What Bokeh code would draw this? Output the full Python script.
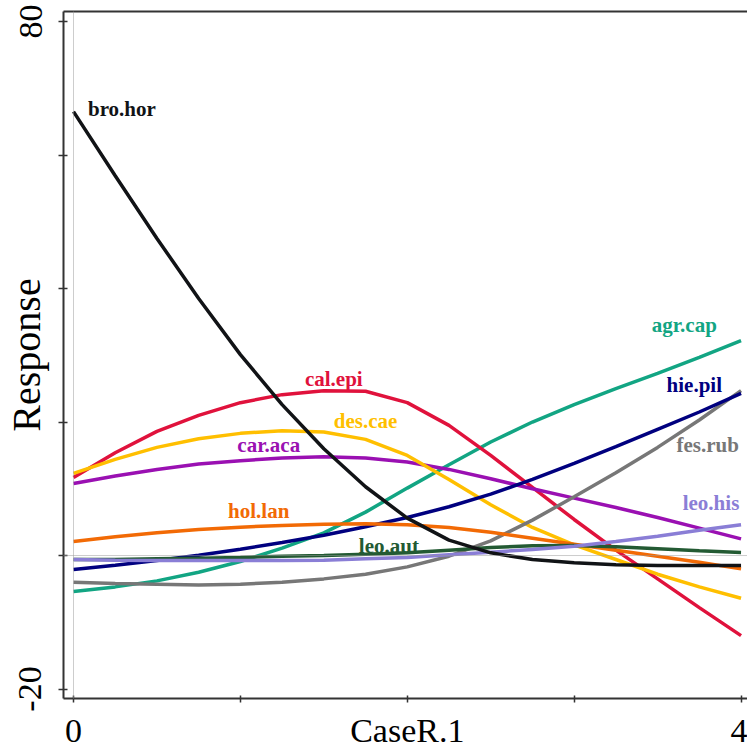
from bokeh.plotting import figure
from bokeh.models import FixedTicker, Span, ColumnDataSource, Range1d, LinearAxis
from bokeh.core.properties import value
from bokeh.embed import file_html
from bokeh.resources import INLINE

# CaseR.1 values at which responses were read
x = [0, 0.25, 0.5, 0.75, 1.0, 1.25, 1.5, 1.75, 2.0, 2.25, 2.5, 2.75, 3.0, 3.25, 3.5, 3.75, 4.0]

agr_cap = [-5.4, -4.7, -3.8, -2.5, -0.9, 1.1, 3.4, 6.5, 10.1, 13.6, 17.0, 20.0, 22.6, 25.0, 27.3, 29.7, 32.2]
bro_hor = [66.5, 56.9, 47.5, 38.5, 30.1, 22.6, 16.0, 10.3, 5.6, 2.3, 0.4, -0.6, -1.1, -1.4, -1.5, -1.5, -1.5]
cal_epi = [11.7, 15.4, 18.6, 21.0, 22.9, 24.1, 24.7, 24.6, 22.9, 19.5, 15.0, 10.2, 5.4, 0.8, -3.5, -7.8, -12.0]
car_aca = [10.8, 11.9, 12.9, 13.7, 14.2, 14.6, 14.8, 14.6, 14.0, 12.9, 11.5, 10.0, 8.6, 7.2, 5.7, 4.1, 2.5]
des_cae = [12.3, 14.4, 16.2, 17.5, 18.3, 18.7, 18.5, 17.4, 15.0, 11.4, 7.6, 4.2, 1.6, -0.6, -2.8, -4.7, -6.4]
fes_rub = [-4.0, -4.2, -4.3, -4.4, -4.3, -4.0, -3.5, -2.8, -1.7, -0.1, 2.2, 5.3, 8.8, 12.4, 16.2, 20.3, 24.7]
hie_pil = [-2.1, -1.45, -0.75, 0.05, 0.95, 1.95, 3.05, 4.3, 5.7, 7.3, 9.2, 11.4, 13.8, 16.3, 18.9, 21.5, 24.3]
hol_lan = [2.1, 2.8, 3.4, 3.9, 4.25, 4.5, 4.7, 4.75, 4.6, 4.2, 3.5, 2.6, 1.7, 0.8, -0.1, -1.0, -2.0]
leo_aut = [-0.6, -0.6, -0.5, -0.4, -0.3, -0.1, 0.0, 0.2, 0.4, 0.8, 1.2, 1.45, 1.5, 1.3, 1.0, 0.7, 0.45]
leo_his = [-0.6, -0.7, -0.75, -0.75, -0.75, -0.75, -0.7, -0.5, -0.3, 0.1, 0.5, 0.9, 1.4, 2.1, 2.9, 3.8, 4.6]

species = ["agr.cap", "cal.epi", "car.aca", "des.cae", "fes.rub",
           "hie.pil", "hol.lan", "leo.aut", "leo.his", "bro.hor"]
series = [agr_cap, cal_epi, car_aca, des_cae, fes_rub,
          hie_pil, hol_lan, leo_aut, leo_his, bro_hor]
colors = ["#12A583", "#E0123C", "#9A10B2", "#FFBF00", "#777777",
          "#00007F", "#F26A05", "#235A33", "#8A7ED6", "#111316"]

# label anchor positions (data units)
label_x = [3.66, 1.56, 1.17, 1.75, 3.80, 3.72, 1.11, 1.89, 3.82, 0.29]
label_y = [34.5, 26.5, 16.5, 20.1, 16.5, 25.5, 6.7, 1.5, 7.8, 66.9]

x_ticks = [0, 1, 2, 3, 4]
x_tick_labels = {0: "0", 1: "", 2: "CaseR.1", 3: "", 4: "4"}   # axis title sits on the tick-label line
y_ticks = [-20, 0, 20, 40, 60, 80]
y_tick_labels = {-20: "-20", 0: "", 20: "", 40: "", 60: "", 80: "80"}

p = figure(width=747, height=751,
           x_range=Range1d(-0.0599, 4.0387), y_range=Range1d(-21.42, 81.5),
           output_backend="svg", toolbar_location=None,
           min_border_left=63, min_border_right=0, min_border_top=11, min_border_bottom=53)

p.xgrid.visible = False
p.ygrid.visible = False
p.background_fill_color = "white"
p.border_fill_color = "white"
p.outline_line_color = None

serif = "Liberation Serif"

for ax in (p.xaxis[0], p.yaxis[0]):
    ax.axis_line_color = "#333333"
    ax.axis_line_width = 2
    ax.major_tick_line_color = "#333333"
    ax.major_tick_line_width = 1.5
    ax.minor_tick_line_color = None
    ax.major_label_text_font = serif
    ax.major_label_text_font_size = "34px"
    ax.major_label_text_color = "black"
    ax.axis_label_text_font = serif
    ax.axis_label_text_font_style = "normal"
    ax.axis_label_text_color = "black"

p.xaxis.ticker = FixedTicker(ticks=x_ticks)
p.xaxis.major_label_overrides = x_tick_labels
p.xaxis.major_tick_in = 3
p.xaxis.major_tick_out = 4
p.xaxis.major_label_standoff = 9

p.yaxis.ticker = FixedTicker(ticks=y_ticks)
p.yaxis.major_label_overrides = y_tick_labels
p.yaxis.major_tick_in = 4
p.yaxis.major_tick_out = 5
p.yaxis.major_label_standoff = 17
p.yaxis.major_label_orientation = "vertical"
p.yaxis.axis_label = "Response"
p.yaxis.axis_label_text_font_size = "40px"
p.yaxis.axis_label_standoff = -32

# top border line
top = LinearAxis(ticker=FixedTicker(ticks=[]), axis_line_color="#333333", axis_line_width=2,
                 major_tick_line_color=None, minor_tick_line_color=None,
                 major_label_text_font_size="0px")
p.add_layout(top, "above")

p.add_layout(Span(location=0, dimension="height", line_color="#9a9a9a",
                  line_width=1, line_dash="1 1"))
p.add_layout(Span(location=0, dimension="width", line_color="#9a9a9a",
                  line_width=1, line_dash="1 1"))

for ys, c in zip(series, colors):
    p.line(x, ys, line_color=c, line_width=3.5)

src = ColumnDataSource(dict(x=label_x, y=label_y, name=species, color=colors))
p.text(x="x", y="y", text="name", source=src, text_color="color",
       text_font=value(serif), text_font_style="bold", text_font_size="21px",
       text_align="center", text_baseline="middle")

open("out.html", "w").write(file_html(p, INLINE))
